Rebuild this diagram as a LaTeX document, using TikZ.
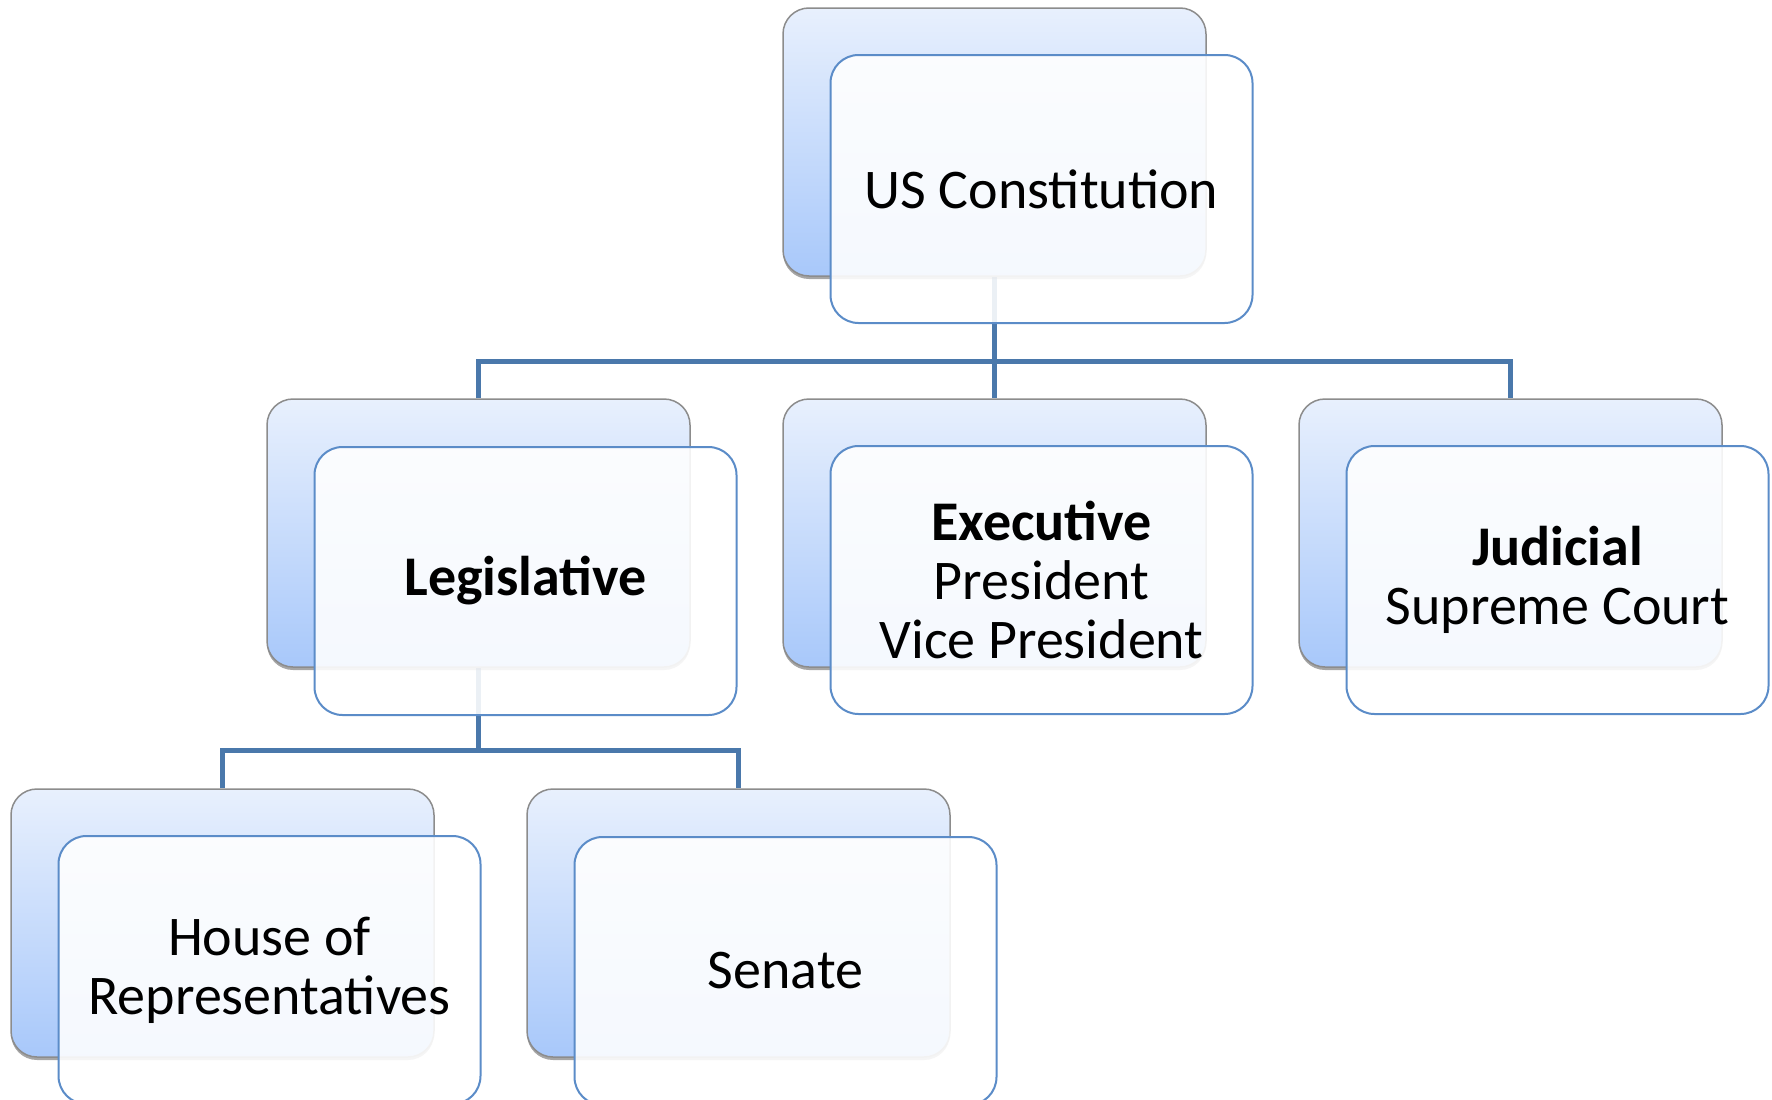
\documentclass[tikz,border=0pt]{standalone}
\usepackage{fontspec}
\setmainfont{Carlito}
\usetikzlibrary{shadows}
\definecolor{conncol}{HTML}{4A78AB}
\definecolor{frontcol}{HTML}{5B8CC8}
\definecolor{backtop}{HTML}{E8F0FD}
\definecolor{backbot}{HTML}{A8C8FA}
\definecolor{backedge}{HTML}{8C8C8C}
\pgfdeclarelayer{bg}
\pgfsetlayers{bg,main}
\begin{document}
\begin{tikzpicture}[x=1pt,y=-1pt,
  backbox/.style={rounded corners=26pt, minimum width=423pt, minimum height=268pt,
    draw=backedge, line width=1.5pt, top color=backtop, bottom color=backbot,
    drop shadow={shadow xshift=0pt, shadow yshift=-3pt, opacity=0.35, fill=black},
    inner sep=0pt},
  frontbox/.style={rounded corners=28pt, minimum width=422pt, minimum height=268pt,
    draw=frontcol, line width=2pt, fill=white, fill opacity=0.89, text opacity=1,
    align=center, font=\fontsize{56}{59}\selectfont, inner sep=0pt},
  conn/.style={draw=conncol, line width=5pt}]
\useasboundingbox (0,0) rectangle (1772,1100);
\begin{pgfonlayer}{bg}
\fill[white] (0,0) rectangle (1772,1100);
\end{pgfonlayer}
% back boxes
\node[backbox] (conB) at (994.5,142) {};
\node[backbox] (legB) at (478.5,533) {};
\node[backbox] (exeB) at (994.5,533) {};
\node[backbox] (judB) at (1510.5,533) {};
\node[backbox] (houB) at (222.5,923) {};
\node[backbox] (senB) at (738.5,923) {};
% front boxes
\node[frontbox] (conF) at (1041.5,189) {US Constitution};
\node[frontbox] (legF) at (525.5,581) {\textbf{Legislative}};
\node[frontbox] (exeF) at (1041.5,580) {\textbf{Executive}\\President\\Vice President};
\node[frontbox] (judF) at (1557.5,580) {\textbf{Judicial}\\Supreme Court};
\node[frontbox] (houF) at (269.5,970) {House of\\Representatives};
\node[frontbox] (senF) at (785.5,971) {Senate};
% connectors
\coordinate (bus1) at (994.5,361);
\coordinate (bus2) at (478.5,750.5);
\begin{pgfonlayer}{bg}
\draw[conn] (legB.north) |- (bus1) -| (judB.north);
\draw[conn] (conB.south) -- (exeB.north);
\draw[conn] (houB.north) |- (bus2) -| (senB.north);
\draw[conn] (legB.south) -- (bus2);
\end{pgfonlayer}
\end{tikzpicture}
\end{document}
